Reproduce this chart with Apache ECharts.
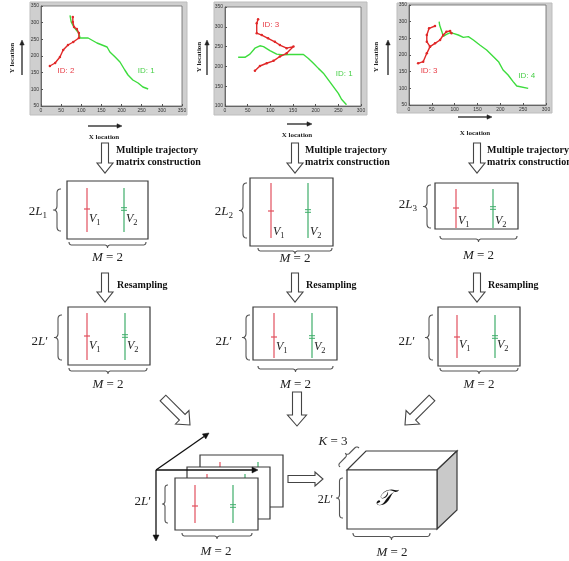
<!DOCTYPE html>
<html><head><meta charset="utf-8">
<script src="https://cdn.jsdelivr.net/npm/echarts@6/dist/echarts.min.js"></script>
<style>html,body{margin:0;padding:0;background:#fff}#c{width:569px;height:561px}</style>
</head><body><div id="c"></div>
<script>
// ---- trajectory data (x location, y location) ----
const plot1Green = [[72,322],[75,302],[82,286],[94,268],[97,254],[117,254],[139,239],[164,227],[171,212],[184,197],[196,182],[208,158],[216,143],[228,128],[241,119],[253,107],[266,101]];
const plot1Red = [[22,170],[35,179],[47,197],[55,218],[67,233],[80,242],[94,254],[94,269],[89,281],[82,287],[79,302],[79,317]];
const plot2Green = [[29,223],[44,223],[55,231],[66,246],[77,252],[85,250],[99,240],[114,231],[129,229],[143,230],[158,230],[173,230],[184,220],[195,208],[206,195],[217,183],[228,166],[239,149],[250,132],[257,117],[268,103]];
const plot2Red = [[73,319],[70,309],[70,284],[81,279],[95,271],[110,262],[121,254],[136,246],[151,250],[136,233],[121,225],[107,214],[92,208],[77,201],[66,189]];
const plot3Green = [[66,300],[63,295],[67,290],[71,296],[70,286],[72,270],[75,256],[82,262],[92,268],[97,265],[108,260],[119,253],[130,255],[141,245],[155,230],[170,215],[185,195],[196,180],[206,155],[217,140],[228,120],[236,107],[261,100]];
const plot3RedA = [[20,175],[31,180],[39,205],[46,225],[39,240],[39,260],[44,280],[57,287]];
const plot3RedB = [[46,225],[57,235],[68,245],[75,260],[82,270],[90,272],[93,265]];
const plotXRange = [[0,350],[0,300],[0,300]];
const plotYRange = [[50,350],[100,350],[50,350]];
const tickStep = 50;
const idLabels = [
  {plot:0, name:'ID: 2', pos:[62,155], c:'red'},
  {plot:0, name:'ID: 1', pos:[261,155], c:'green'},
  {plot:1, name:'ID: 3', pos:[101,305], c:'red'},
  {plot:1, name:'ID: 1', pos:[263,181], c:'green'},
  {plot:2, name:'ID: 3', pos:[44,152], c:'red'},
  {plot:2, name:'ID: 4', pos:[258,137], c:'green'}
];
const axisTitleX = 'X location', axisTitleY = 'Y location';
const stepTitle1 = ['Multiple trajectory','matrix construction'];
const stepTitle2 = 'Resampling';

// ---- styles ----
const TRED = '#e02828', TGREEN = '#3ddc3d';
const MRED = '#e2505e', MGREEN = '#3fae6a';
const INK = '#3a3a3a';
const MATH = '"Liberation Serif", "DejaVu Serif", serif';
const SERIF = '"Liberation Serif", serif';

const G = [];
let zc = 0;
function nz(){ zc += 1; return 10 + zc*0.01; }
function rect(x,y,w,h,st){ G.push({type:'rect', z:nz(), shape:{x,y,width:w,height:h}, style:Object.assign({fill:'#fff', stroke:INK, lineWidth:1.2}, st||{})}); }
function line(x1,y1,x2,y2,color,w){ G.push({type:'line', z:nz(), shape:{x1,y1,x2,y2}, style:{stroke:color, lineWidth:w||1.2}}); }
function poly(points, st){ G.push({type:'polygon', z:nz(), shape:{points}, style:Object.assign({fill:'#fff', stroke:INK, lineWidth:1.2}, st||{})}); }
function pline(points, color, w){ G.push({type:'polyline', z:nz(), shape:{points}, style:{stroke:color, lineWidth:w||1.1, fill:null}}); }
function text(x,y,str,font,fill,align,rot){
  G.push({type:'text', z:nz(), x, y, rotation:rot||0, style:{text:str, x:0, y:0, font, fill:fill||'#111', align:align||'center', textAlign:align||'center', verticalAlign:'middle', textVerticalAlign:'middle'}});
}
function rich(x,y,str,size,align){
  G.push({type:'text', z:nz(), x, y, style:{text:str, x:0, y:0, fill:'#222', align:align||'center', textAlign:align||'center', verticalAlign:'middle', textVerticalAlign:'middle',
    rich:{
      i:{fontFamily:MATH, fontStyle:'italic', fontSize:size, color:'#222', verticalAlign:'bottom'},
      n:{fontFamily:MATH, fontSize:size, color:'#222', verticalAlign:'bottom'},
      s:{fontFamily:MATH, fontSize:size*0.7, color:'#222', verticalAlign:'bottom', padding:[0,0,-2,0]}
    }}});
}
function brace(p1,p2,d,color){
  const dx=p2[0]-p1[0], dy=p2[1]-p1[1], L=Math.hypot(dx,dy), ux=dx/L, uy=dy/L, nx=-uy, ny=ux, h=d/2;
  const segs=[[[0,0],[0,h],[h,h]],[[L/2-h,h],[L/2,h],[L/2,d]],[[L/2,d],[L/2,h],[L/2+h,h]],[[L-h,h],[L,h],[L,0]]];
  const pts=[];
  segs.forEach(s=>{ for(let i=0;i<=8;i++){ const t=i/8, a=(1-t)*(1-t), b=2*(1-t)*t, c=t*t;
    const u=a*s[0][0]+b*s[1][0]+c*s[2][0], v=a*s[0][1]+b*s[1][1]+c*s[2][1];
    pts.push([p1[0]+u*ux+v*nx, p1[1]+u*uy+v*ny]); } });
  pline(pts, color||'#555', 1.1);
}
function hollowArrow(x1,y1,x2,y2,sw,hw,hl){
  const dx=x2-x1, dy=y2-y1, L=Math.hypot(dx,dy), ux=dx/L, uy=dy/L, nx=-uy, ny=ux;
  const bx=x2-ux*hl, by=y2-uy*hl;
  poly([[x1+nx*sw,y1+ny*sw],[bx+nx*sw,by+ny*sw],[bx+nx*hw,by+ny*hw],[x2,y2],[bx-nx*hw,by-ny*hw],[bx-nx*sw,by-ny*sw],[x1-nx*sw,y1-ny*sw]], {stroke:'#444', lineWidth:1.1});
}
function arrowLine(x1,y1,x2,y2,color,w,hl,hw){
  const dx=x2-x1, dy=y2-y1, L=Math.hypot(dx,dy), ux=dx/L, uy=dy/L, nx=-uy, ny=ux;
  const bx=x2-ux*hl, by=y2-uy*hl;
  line(x1,y1,bx,by,color,w);
  poly([[x2,y2],[bx+nx*hw,by+ny*hw],[bx-nx*hw,by-ny*hw]], {fill:color, stroke:color, lineWidth:0.5});
}
function matrixBox(b, showV){
  rect(b.x,b.y,b.w,b.h);
  line(b.r,b.l1,b.r,b.l2,MRED,1.2);
  line(b.r-3,b.t,b.r+3,b.t,MRED,1.2);
  line(b.g,b.l1,b.g,b.l2,MGREEN,1.2);
  line(b.g-3,b.t-1.3,b.g+3,b.t-1.3,MGREEN,1);
  line(b.g-3,b.t+1.3,b.g+3,b.t+1.3,MGREEN,1);
  if (showV){ rich(b.r+2,b.v,'{i|V}{s|1}',12,'left'); rich(b.g+2,b.v,'{i|V}{s|2}',12,'left'); }
}

// ---- plot frames and axis captions ----
const frames = [[30,2,157,113],[214,2,153,113],[397,3,155,110]];
frames.forEach(f=>G.push({type:'rect', z:-10, shape:{x:f[0],y:f[1],width:f[2],height:f[3]}, style:{fill:'#cfcfcf', stroke:'#bdbdbd'}}));
const capFont = 'bold 7px ' + SERIF;
[[12,58,22],[199,57,207],[376,57,388]].forEach(c=>{ text(c[0],c[1],axisTitleY,capFont,'#222','center',Math.PI/2); arrowLine(c[2],75,c[2],40,'#222',1.3,5,2.2); });
[[88,122,126,104,137],[287,312,124,297,135],[458,492,117,475,133]].forEach(c=>{ arrowLine(c[0],c[2],c[1],c[2],'#222',1.3,5,2.2); text(c[3],c[4],axisTitleX,capFont,'#222'); });

// ---- step arrows and titles ----
const tFont = 'bold 10px ' + SERIF;
[[105,116],[295,305],[477,487]].forEach(c=>{
  hollowArrow(c[0],143,c[0],173,3.5,8,10);
  text(c[1],150,stepTitle1[0],tFont,'#111','left');
  text(c[1],162,stepTitle1[1],tFont,'#111','left');
  hollowArrow(c[0],273,c[0],302,3.5,8,10);
  text(c[1]+1,285,stepTitle2,tFont,'#111','left');
});

// ---- matrix boxes ----
const boxes = [
  {x:67,y:181,w:81,h:58,r:87,g:124,l1:188,l2:232,t:209,v:219, lab:'{n|2}{i|L}{s|1}', lx:47, ly:212, bt:189, bb:231, bx:61, d:8, hx1:69, hx2:146, hy:242, my:258},
  {x:250,y:178,w:83,h:68,r:271,g:308,l1:183,l2:238,t:211,v:232, lab:'{n|2}{i|L}{s|2}', lx:233, ly:212, bt:183, bb:238, bx:247, d:8, hx1:258, hx2:332, hy:248, my:259},
  {x:435,y:183,w:83,h:46,r:456,g:493,l1:189,l2:228,t:208,v:221, lab:'{n|2}{i|L}{s|3}', lx:417, ly:205, bt:185, bb:228, bx:431, d:8, hx1:440, hx2:517, hy:236, my:256},
  {x:68,y:307,w:82,h:58,r:87,g:125,l1:313,l2:360,t:336,v:346, lab:'{n|2}{i|L}{n|′}', lx:48, ly:342, bt:315, bb:360, bx:62, d:8, hx1:69, hx2:147, hy:368, my:385},
  {x:253,y:307,w:84,h:53,r:274,g:312,l1:313,l2:358,t:337,v:347, lab:'{n|2}{i|L}{n|′}', lx:232, ly:342, bt:315, bb:360, bx:250, d:8, hx1:258, hx2:333, hy:366, my:385},
  {x:438,y:307,w:82,h:59,r:457,g:495,l1:315,l2:358,t:337,v:345, lab:'{n|2}{i|L}{n|′}', lx:415, ly:342, bt:315, bb:360, bx:433, d:8, hx1:440, hx2:518, hy:368, my:385}
];
boxes.forEach(b=>{
  matrixBox(b,true);
  rich(b.lx,b.ly,b.lab,13,'right');
  brace([b.bx,b.bt],[b.bx,b.bb],b.d);
  brace([b.hx1,b.hy],[b.hx2,b.hy],6);
  rich((b.hx1+b.hx2)/2,b.my,'{i|M}{n| = 2}',13,'center');
});

// ---- bottom: merge arrows ----
hollowArrow(163,398,190,425,4,9.5,11);
hollowArrow(297,392,297,426,4.5,9.5,11);
hollowArrow(432,398,405,425,4,9.5,11);
hollowArrow(288,479,323,479,3.5,7,8);

// stacked frames
const stack = [{x:200,y:455},{x:187,y:467},{x:175,y:478}];
stack.forEach(s=>matrixBox({x:s.x,y:s.y,w:83,h:52,r:s.x+20,g:s.x+58,l1:s.y+7,l2:s.y+45,t:s.y+28},false));
arrowLine(156,470,209,433,'#111',1.3,6,3);
arrowLine(156,470,258,470,'#111',1.3,6,3);
arrowLine(156,470,156,541,'#111',1.3,6,3);
rich(151,502,'{n|2}{i|L}{n|′}',13,'right');
brace([168,485],[168,523],6);
brace([182,533],[252,533],6);
rich(216,552,'{i|M}{n| = 2}',13,'center');

// tensor cube
poly([[347,470],[366,451],[457,451],[437,470]],{fill:'#fff',stroke:INK,lineWidth:1.2});
poly([[437,470],[457,451],[457,510],[437,529]],{fill:'#c9c9c9',stroke:INK,lineWidth:1.2});
rect(347,470,90,59);
text(384,499,'𝒯','italic 22px ' + MATH,'#111','center');
rich(333,500,'{n|2}{i|L}{n|′}',12,'right');
brace([343,478],[343,518],7);
brace([353,533],[430,533],7);
rich(392,553,'{i|M}{n| = 2}',13,'center');
brace([359,448],[340,467],6);
rich(333,442,'{i|K}{n| = 3}',13,'center');

// ---- charts ----
const grids = [{left:41,top:6,width:141,height:100},{left:225,top:7,width:136,height:99},{left:409,top:5,width:137,height:100}];
const axStyle = {axisLine:{lineStyle:{color:'#555',width:0.8}}, axisTick:{inside:true,length:2,lineStyle:{color:'#555'}}, axisLabel:{fontSize:5,color:'#333',margin:2,fontFamily:'Liberation Sans'}, splitLine:{show:false}};
const option = {
  animation:false,
  backgroundColor:'#fff',
  grid: grids.map(g=>Object.assign({show:true,backgroundColor:'#fff',borderColor:'#666',borderWidth:0.8},g)),
  xAxis: plotXRange.map((r,i)=>Object.assign({gridIndex:i,type:'value',min:r[0],max:r[1],interval:tickStep},axStyle)),
  yAxis: plotYRange.map((r,i)=>Object.assign({gridIndex:i,type:'value',min:r[0],max:r[1],interval:tickStep},axStyle)),
  series: [],
  graphic: {elements: G}
};
function traj(data,i,color,dots){
  option.series.push({type:'line',xAxisIndex:i,yAxisIndex:i,data,showSymbol:dots,symbol:'circle',symbolSize:2.5,
    itemStyle:{color},lineStyle:{color,width:1.4},silent:true});
}
traj(plot1Green,0,TGREEN,false); traj(plot1Red,0,TRED,true);
traj(plot2Green,1,TGREEN,false); traj(plot2Red,1,TRED,true);
traj(plot3Green,2,TGREEN,false); traj(plot3RedA,2,TRED,true); traj(plot3RedB,2,TRED,true);
idLabels.forEach(l=>option.series.push({type:'scatter',xAxisIndex:l.plot,yAxisIndex:l.plot,symbolSize:1,itemStyle:{opacity:0},
  data:[{name:l.name,value:l.pos}],
  label:{show:true,position:'inside',formatter:'{b}',fontSize:8,fontFamily:'Liberation Sans',color:l.c==='red'?'#e8404a':'#49cf49',opacity:1}}));

const chart = echarts.init(document.getElementById('c'),null,{renderer:'canvas'});
chart.setOption(option);
</script></body></html>
